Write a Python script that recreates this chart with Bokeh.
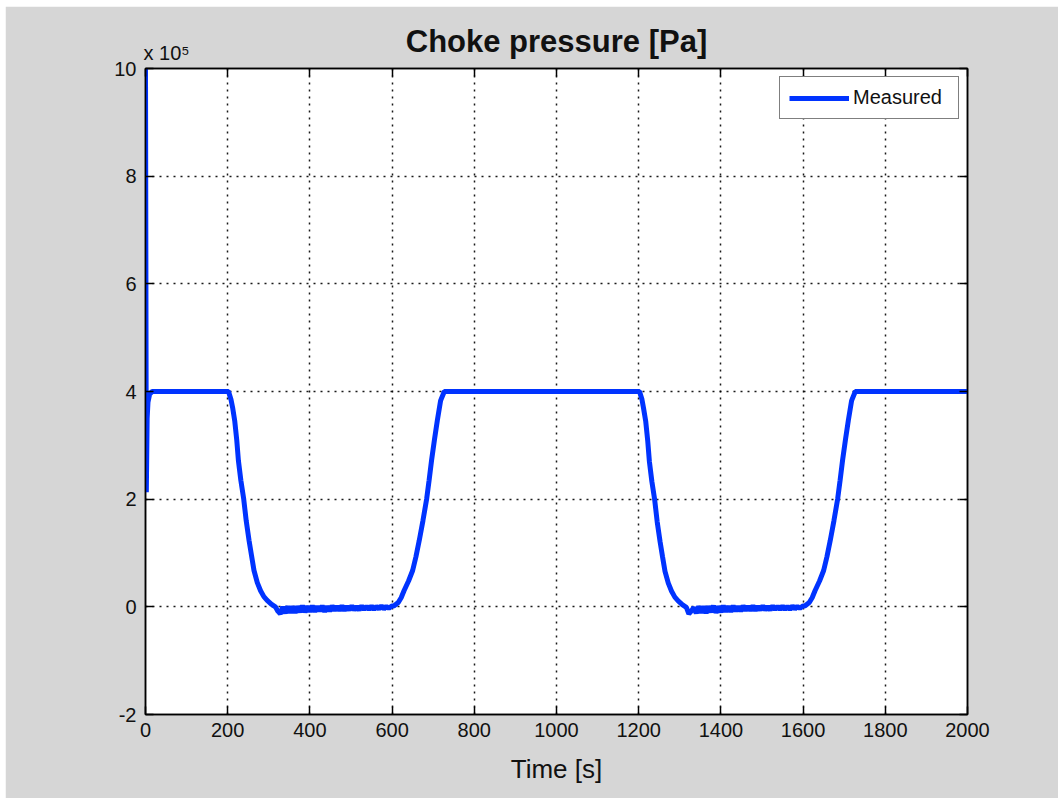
from bokeh.plotting import figure
from bokeh.models import Range1d, FixedTicker, LinearAxis, Legend, LegendItem, ColumnDataSource, Title
from bokeh.embed import file_html
from bokeh.resources import INLINE

# ---------------- data (pressure in units of 1e5 Pa) ----------------
x_ticks = [0, 200, 400, 600, 800, 1000, 1200, 1400, 1600, 1800, 2000]
y_ticks = [-2, 0, 2, 4, 6, 8, 10]
y_tick_labels = {-2: "-2", 0: "0", 2: "2", 4: "4", 6: "6", 8: "8", 10: "10"}

start_t = [0, 2, 4, 6, 10, 16, 202]
start_p = [10.0, 2.13, 3.5, 3.8, 3.95, 4.0, 4.0]

fall1_t = [208, 212, 217, 222, 226, 232, 239, 245, 252, 258, 264, 272, 280, 288, 296, 306, 316]
fall1_p = [3.85, 3.7, 3.46, 3.1, 2.72, 2.35, 2.0, 1.6, 1.23, 0.95, 0.675, 0.45, 0.30, 0.19, 0.12, 0.05, 0.0]

low1_t = [322, 328, 334, 340, 346, 352, 358, 364, 370, 376, 382, 388, 394, 400, 406, 412,
          418, 424, 430, 436, 442, 448, 454, 460, 466, 472, 478, 484, 490, 496, 502, 508,
          514, 520, 526, 532, 538, 544, 550, 556, 562, 568, 574, 580, 586, 592, 598]
low1_p = [-0.08, -0.13, 0.0, -0.12, 0.01, -0.11, 0.01, -0.11, 0.01, -0.10, 0.02, -0.10,
          0.01, -0.09, 0.02, -0.09, 0.01, -0.08, 0.02, -0.09, 0.01, -0.08, 0.02, -0.07,
          0.01, -0.07, 0.02, -0.07, 0.01, -0.06, 0.02, -0.06, 0.01, -0.06, 0.02, -0.05,
          0.01, -0.05, 0.02, -0.05, 0.01, -0.04, 0.02, -0.04, 0.01, -0.03, 0.01]

rise1_t = [605, 615, 622, 629, 640, 650, 658, 666, 675, 684, 690, 696, 703, 710, 718, 727, 1202]
rise1_p = [0.02, 0.08, 0.17, 0.30, 0.48, 0.675, 0.93, 1.23, 1.6, 2.0, 2.35, 2.72, 3.1, 3.46, 3.83, 4.0, 4.0]

fall2_t = [1208, 1212, 1217, 1222, 1226, 1232, 1239, 1245, 1252, 1258, 1264, 1272, 1280, 1288, 1296, 1306, 1316]
fall2_p = [3.85, 3.68, 3.45, 3.08, 2.7, 2.33, 1.98, 1.58, 1.21, 0.93, 0.66, 0.44, 0.29, 0.18, 0.11, 0.04, -0.01]

low2_t = [1322, 1328, 1334, 1340, 1346, 1352, 1358, 1364, 1370, 1376, 1382, 1388, 1394, 1400, 1406, 1412,
          1418, 1424, 1430, 1436, 1442, 1448, 1454, 1460, 1466, 1472, 1478, 1484, 1490, 1496, 1502, 1508,
          1514, 1520, 1526, 1532, 1538, 1544, 1550, 1556, 1562, 1568, 1574, 1580, 1586, 1592, 1598]
low2_p = [-0.13, -0.08, -0.01, -0.12, 0.01, -0.11, 0.01, -0.12, 0.01, -0.10, 0.02, -0.11,
          0.01, -0.10, 0.02, -0.09, 0.01, -0.09, 0.02, -0.08, 0.01, -0.08, 0.02, -0.07,
          0.01, -0.07, 0.02, -0.07, 0.01, -0.06, 0.02, -0.06, 0.01, -0.06, 0.02, -0.05,
          0.01, -0.05, 0.02, -0.05, 0.01, -0.05, 0.02, -0.04, 0.01, -0.03, 0.01]

rise2_t = [1605, 1615, 1622, 1629, 1640, 1650, 1658, 1666, 1675, 1684, 1690, 1696, 1703, 1710, 1718, 1727, 2000]
rise2_p = [0.02, 0.08, 0.17, 0.30, 0.48, 0.675, 0.93, 1.23, 1.6, 2.0, 2.35, 2.72, 3.1, 3.46, 3.83, 4.0, 4.0]

time_s = start_t + fall1_t + low1_t + rise1_t + fall2_t + low2_t + rise2_t
pressure_1e5pa = start_p + fall1_p + low1_p + rise1_p + fall2_p + low2_p + rise2_p

# ---------------- figure ----------------
FONT = "Liberation Sans"
BG = "#d6d6d6"
TXT = "#111111"

p = figure(width=1053, height=792, output_backend="svg", toolbar_location=None,
           x_range=Range1d(0, 2000), y_range=Range1d(-2, 10),
           x_axis_location=None, y_axis_location=None,
           min_border_left=140, min_border_right=91, min_border_top=62, min_border_bottom=84)
p.margin = (6, 0, 0, 5)
p.border_fill_color = BG
p.background_fill_color = "white"
p.outline_line_color = "black"
p.outline_line_width = 1.5


def style_axis(ax):
    ax.axis_line_color = "black"
    ax.axis_line_width = 1.5
    ax.major_tick_line_color = "black"
    ax.major_tick_line_width = 1.5
    ax.major_tick_in = 8
    ax.major_tick_out = 0
    ax.minor_tick_line_color = "black"
    ax.minor_tick_line_width = 1.5
    ax.minor_tick_in = 8
    ax.minor_tick_out = 0
    ax.major_label_text_font = FONT
    ax.major_label_text_font_size = "20px"
    ax.major_label_text_color = TXT
    return ax


# labelled axes (bottom, left)
xb = style_axis(LinearAxis(ticker=FixedTicker(ticks=x_ticks, minor_ticks=[])))
xb.major_label_standoff = 8
xb.axis_label = "Time [s]"
xb.axis_label_text_font = FONT
xb.axis_label_text_font_size = "26px"
xb.axis_label_text_font_style = "normal"
xb.axis_label_text_color = TXT
xb.axis_label_standoff = 14
yl = style_axis(LinearAxis(ticker=FixedTicker(ticks=y_ticks, minor_ticks=[])))
yl.major_label_standoff = 9
yl.major_label_overrides = y_tick_labels
# box axes (top, right): inward ticks only, drawn as minor ticks so no labels
xt = style_axis(LinearAxis(ticker=FixedTicker(ticks=[], minor_ticks=x_ticks)))
yr = style_axis(LinearAxis(ticker=FixedTicker(ticks=[], minor_ticks=y_ticks)))
p.add_layout(xb, "below")
p.add_layout(yl, "left")
p.add_layout(xt, "above")
p.add_layout(yr, "right")

# exponent marker above the y axis
p.add_layout(Title(text="x 10\u2075", align="left", offset=-2, standoff=9,
                   text_font=FONT, text_font_size="20px", text_font_style="normal",
                   text_color=TXT), "above")

p.title.text = "Choke pressure [Pa]"
p.title.align = "center"
p.title.text_font = FONT
p.title.text_font_size = "31px"
p.title.text_font_style = "bold"
p.title.text_color = TXT
p.title.standoff = -46

p.xgrid.ticker = FixedTicker(ticks=x_ticks)
p.ygrid.ticker = FixedTicker(ticks=y_ticks)
for g in (p.xgrid, p.ygrid):
    g.grid_line_color = "black"
    g.grid_line_width = 1.5
    g.grid_line_dash = "2 5"
    g.grid_line_alpha = 0.9

src = ColumnDataSource(dict(t=time_s, pr=pressure_1e5pa))
r = p.line("t", "pr", source=src, line_color="#0033ff", line_width=5)

legend = Legend(items=[LegendItem(label="Measured", renderers=[r])], location="top_right")
legend.label_text_font = FONT
legend.label_text_font_size = "20px"
legend.label_text_color = TXT
legend.border_line_color = "black"
legend.border_line_width = 1.5
legend.background_fill_color = "white"
legend.background_fill_alpha = 1.0
legend.glyph_width = 60
legend.glyph_height = 22
legend.label_standoff = 4
legend.label_width = 96
legend.padding = 9
legend.margin = 8
legend.spacing = 0
p.add_layout(legend)

open("out.html", "w").write(file_html(p, INLINE))
